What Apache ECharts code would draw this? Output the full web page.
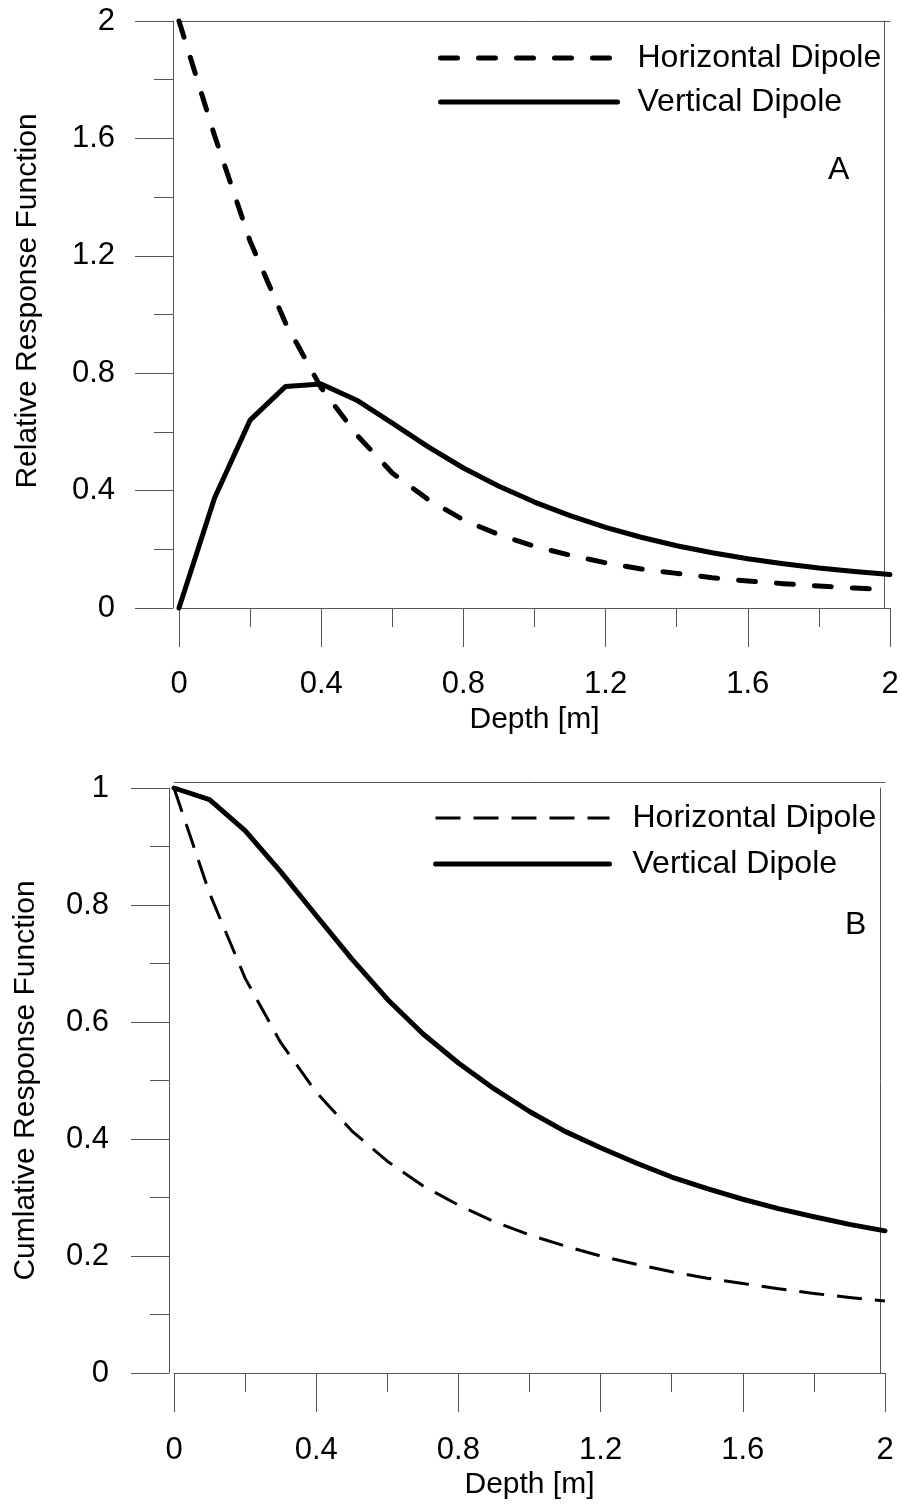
<!DOCTYPE html>
<html>
<head>
<meta charset="utf-8">
<script src="https://cdn.jsdelivr.net/npm/echarts@6/dist/echarts.min.js"></script>
<style>
html,body{margin:0;padding:0;background:#fff;}
#chart{width:902px;height:1506px;}
</style>
</head>
<body>
<div id="chart"></div>
<script>
// ---- data ----
const depth = [0, 0.1, 0.2, 0.3, 0.4, 0.5, 0.6, 0.7, 0.8, 0.9, 1.0, 1.1, 1.2, 1.3, 1.4, 1.5, 1.6, 1.7, 1.8, 1.9, 2.0];
const relHorizontal = [2.00, 1.61, 1.25, 0.97, 0.75, 0.59, 0.46, 0.37, 0.30, 0.25, 0.21, 0.18, 0.154, 0.133, 0.118, 0.103, 0.092, 0.083, 0.075, 0.068, 0.062];
const relVertical = [0, 0.375, 0.64, 0.755, 0.763, 0.708, 0.630, 0.550, 0.477, 0.415, 0.361, 0.315, 0.275, 0.241, 0.212, 0.188, 0.168, 0.151, 0.136, 0.124, 0.114];
const cumHorizontal = [1, 0.82, 0.675, 0.565, 0.48, 0.414, 0.362, 0.32, 0.287, 0.259, 0.236, 0.217, 0.200, 0.186, 0.173, 0.162, 0.153, 0.144, 0.136, 0.129, 0.123];
const cumVertical = [1, 0.98, 0.927, 0.857, 0.782, 0.708, 0.639, 0.580, 0.530, 0.486, 0.447, 0.413, 0.385, 0.359, 0.335, 0.315, 0.297, 0.281, 0.267, 0.254, 0.243];
const seriesNames = ['Horizontal Dipole', 'Vertical Dipole'];
const panelLabels = ['A', 'B'];
const axisTitles = { x: 'Depth [m]', yTop: 'Relative Response Function', yBottom: 'Cumlative Response Function' };

const FONT = 'Liberation Sans, Arial, sans-serif';
const AX = '#555';

function pairs(xs, ys) { return xs.map((x, i) => [x, ys[i]]); }

function mainX(grid, margin) {
  return {
    type: 'value', gridIndex: grid, position: 'bottom', min: 0, max: 2, interval: 0.4,
    name: axisTitles.x, nameLocation: 'middle', nameGap: 97,
    nameTextStyle: { fontFamily: FONT, fontSize: 30, color: '#000' },
    axisLine: { show: true, onZero: false, lineStyle: { color: AX, width: 1 } },
    axisTick: { show: true, inside: false, length: 39, lineStyle: { color: AX, width: 1 } },
    minorTick: { show: true, splitNumber: 2, length: 19, lineStyle: { color: AX, width: 1 } },
    axisLabel: { margin: margin, fontFamily: FONT, fontSize: 31, color: '#000' },
    splitLine: { show: false }, minorSplitLine: { show: false }
  };
}
function borderX(grid, offset) {
  return {
    type: 'value', gridIndex: grid, position: 'top', min: 0, max: 2, offset: offset,
    axisLine: { show: true, onZero: false, lineStyle: { color: AX, width: 1 } },
    axisTick: { show: false }, axisLabel: { show: false }, splitLine: { show: false }
  };
}
function mainY(grid, max, interval, offset, margin, title, gap, pad) {
  return {
    type: 'value', gridIndex: grid, position: 'left', min: 0, max: max, interval: interval, offset: offset,
    name: title, nameLocation: 'middle', nameGap: gap, nameRotate: 90,
    nameTextStyle: { fontFamily: FONT, fontSize: 30, color: '#000', padding: pad },
    axisLine: { show: true, onZero: false, lineStyle: { color: AX, width: 1 } },
    axisTick: { show: true, inside: false, length: 38, lineStyle: { color: AX, width: 1 } },
    minorTick: { show: true, splitNumber: 2, length: 19, lineStyle: { color: AX, width: 1 } },
    axisLabel: { margin: margin, fontFamily: FONT, fontSize: 31, color: '#000' },
    splitLine: { show: false }, minorSplitLine: { show: false }
  };
}
function borderY(grid, max, offset) {
  return {
    type: 'value', gridIndex: grid, position: 'right', min: 0, max: max, offset: offset,
    axisLine: { show: true, onZero: false, lineStyle: { color: AX, width: 1 } },
    axisTick: { show: false }, axisLabel: { show: false }, splitLine: { show: false }
  };
}

const hidden = { opacity: 0, color: '#000' };

const chart = echarts.init(document.getElementById('chart'), null, { renderer: 'canvas' });
chart.setOption({
  animation: false,
  backgroundColor: '#fff',
  color: ['#000', '#000'],
  grid: [
    { left: 179, right: 12, top: 21, bottom: 898 },
    { left: 174, right: 17, top: 788, bottom: 133 }
  ],
  xAxis: [mainX(0, 61), borderX(0, 0), mainX(1, 62), borderX(1, 6)],
  yAxis: [
    mainY(0, 2, 0.4, 6, 58, axisTitles.yTop, 130, [0, 0, 0, 27]),
    borderY(0, 2, -6),
    mainY(1, 1, 0.2, 5, 60, axisTitles.yBottom, 128, [0, 0, 0, 0]),
    borderY(1, 1, -5)
  ],
  legend: [
    {
      orient: 'vertical', left: 433, top: 37, itemWidth: 177, itemHeight: 20, itemGap: 12,
      selectedMode: false,
      textStyle: { fontFamily: FONT, fontSize: 32, color: '#000', padding: [0, 0, 0, 15] },
      data: [
        { name: seriesNames[0], itemStyle: hidden, lineStyle: { color: '#000', width: 5, type: [17, 21], cap: 'round' } },
        { name: seriesNames[1], itemStyle: hidden, lineStyle: { color: '#000', width: 5, type: 'solid', cap: 'round' } }
      ]
    },
    {
      orient: 'vertical', left: 428, top: 797, itemWidth: 174, itemHeight: 20, itemGap: 14,
      selectedMode: false,
      textStyle: { fontFamily: FONT, fontSize: 32, color: '#000', padding: [0, 0, 0, 18] },
      data: [
        { name: seriesNames[0], itemStyle: hidden, lineStyle: { color: '#000', width: 3, type: [25, 13], cap: 'butt' } },
        { name: seriesNames[1], itemStyle: hidden, lineStyle: { color: '#000', width: 5, type: 'solid', cap: 'round' } }
      ]
    }
  ],
  graphic: [
    { type: 'text', left: 828, top: 154, style: { text: panelLabels[0], font: '32px ' + FONT, fill: '#000' } },
    { type: 'text', left: 845, top: 909, style: { text: panelLabels[1], font: '32px ' + FONT, fill: '#000' } }
  ],
  series: [
    {
      name: seriesNames[0], type: 'line', xAxisIndex: 0, yAxisIndex: 0, data: pairs(depth, relHorizontal),
      symbol: 'none', clip: false, itemStyle: { color: '#000' },
      lineStyle: { color: '#000', width: 5, type: [17, 21], cap: 'round', join: 'round' }
    },
    {
      name: seriesNames[1], type: 'line', xAxisIndex: 0, yAxisIndex: 0, data: pairs(depth, relVertical),
      symbol: 'none', clip: false, itemStyle: { color: '#000' },
      lineStyle: { color: '#000', width: 5, type: 'solid', cap: 'round', join: 'round' }
    },
    {
      name: seriesNames[0], type: 'line', xAxisIndex: 2, yAxisIndex: 2, data: pairs(depth, cumHorizontal),
      symbol: 'none', clip: false, itemStyle: { color: '#000' },
      lineStyle: { color: '#000', width: 3, type: [25, 13], cap: 'butt', join: 'round' }
    },
    {
      name: seriesNames[1], type: 'line', xAxisIndex: 2, yAxisIndex: 2, data: pairs(depth, cumVertical),
      symbol: 'none', clip: false, itemStyle: { color: '#000' },
      lineStyle: { color: '#000', width: 5, type: 'solid', cap: 'round', join: 'round' }
    }
  ]
});
</script>
</body>
</html>
